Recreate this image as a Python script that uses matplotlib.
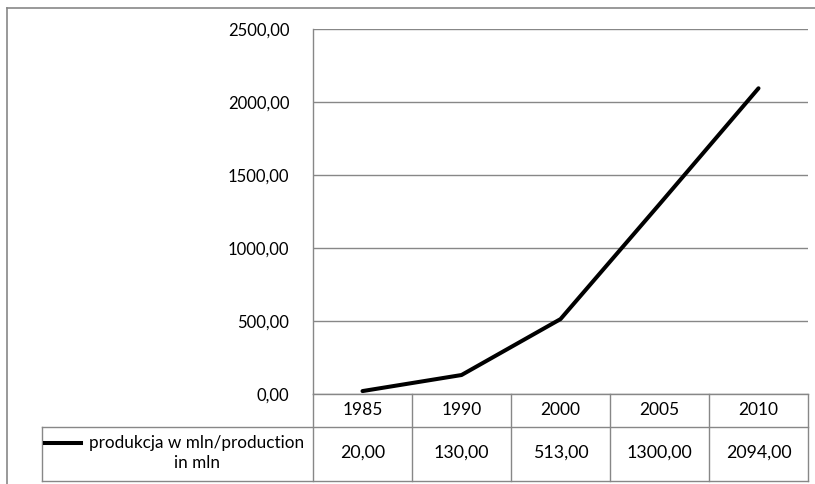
import matplotlib
matplotlib.use("Agg")
import matplotlib.pyplot as plt
from matplotlib.ticker import FuncFormatter

lata = ["1985", "1990", "2000", "2005", "2010"]
produkcja = [20.00, 130.00, 513.00, 1300.00, 2094.00]
nazwa_serii = "produkcja w mln/production\nin mln"

W, H = 815, 484
plt.rcParams['font.family'] = ['Lato', 'DejaVu Sans']
plt.rcParams['font.size'] = 12
szary = '#878787'

fig = plt.figure(figsize=(W / 100, H / 100), dpi=100)

# tlo z ramka i tabela danych, wspolrzedne w pikselach
tlo = fig.add_axes([0, 0, 1, 1], zorder=0)
tlo.set_xlim(0, W)
tlo.set_ylim(H, 0)
tlo.axis('off')

x0, x1, y0, y1 = 313, 808, 29, 394
ax = fig.add_axes([x0 / W, 1 - y1 / H, (x1 - x0) / W, (y1 - y0) / H], zorder=1)
ax.patch.set_alpha(0)

x = range(len(lata))
ax.plot(x, produkcja, color='black', linewidth=2.9, solid_capstyle='round')
ax.set_xlim(-0.5, len(lata) - 0.5)
ax.set_ylim(0, 2500)
ax.set_yticks(range(0, 2501, 500))
ax.yaxis.set_major_formatter(FuncFormatter(lambda v, p: f"{v:.2f}".replace('.', ',')))
ax.set_xticks(list(x))
ax.set_xticklabels(lata, fontsize=12.5)
ax.tick_params(axis='both', length=0, colors='black')
ax.tick_params(axis='y', pad=17)
ax.tick_params(axis='x', pad=6)
ax.grid(axis='y', color=szary, linewidth=1)
ax.set_axisbelow(True)
for s in ['top', 'right']:
    ax.spines[s].set_visible(False)
for s in ['left', 'bottom']:
    ax.spines[s].set_color(szary)
    ax.spines[s].set_linewidth(1)

# ramka wykresu
tlo.plot([7, 7], [8, H], color=szary, lw=1.2)
tlo.plot([7, W], [8, 8], color=szary, lw=1.2)

# siatka tabeli
r1, r2 = 427, 481
kol = [x0 + i * (x1 - x0) / len(lata) for i in range(len(lata) + 1)]
for k in kol:
    tlo.plot([k, k], [y1, r2], color=szary, lw=1)
tlo.plot([42, x1], [r1, r1], color=szary, lw=1)
tlo.plot([42, x1], [r2, r2], color=szary, lw=1)
tlo.plot([42, 42], [r1, r2], color=szary, lw=1)

# wiersz z wartosciami
for i, v in enumerate(produkcja):
    tlo.text((kol[i] + kol[i + 1]) / 2, 453, f"{v:.2f}".replace('.', ','),
             ha='center', va='center', fontsize=12.8)

# opis serii z probka linii
tlo.plot([45, 81], [443, 443], color='black', lw=2.9)
tlo.text(197, 453, nazwa_serii, ha='center', va='center', fontsize=12.3,
         multialignment='center', linespacing=1.3)

fig.savefig("out.png", dpi=100)
